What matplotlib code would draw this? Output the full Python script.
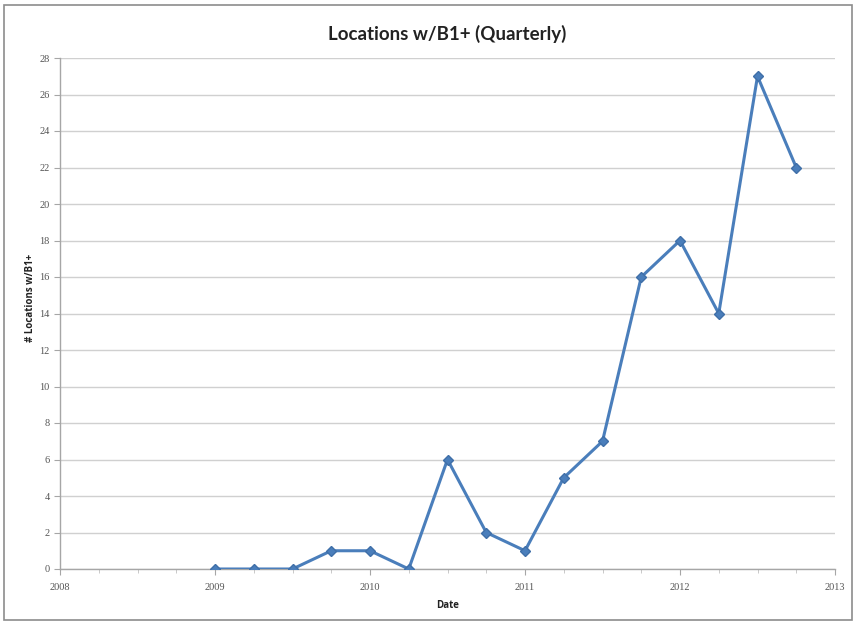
import numpy as np
import matplotlib.pyplot as plt
from matplotlib.patches import Rectangle

# quarterly counts, starting Q1 2009
quarters = [2009.0, 2009.25, 2009.5, 2009.75, 2010.0, 2010.25, 2010.5, 2010.75,
            2011.0, 2011.25, 2011.5, 2011.75, 2012.0, 2012.25, 2012.5, 2012.75]
locations = [0, 0, 0, 1, 1, 0, 6, 2, 1, 5, 7, 16, 18, 14, 27, 22]
year_ticks = [2008, 2009, 2010, 2011, 2012, 2013]
year_labels = ['2008', '2009', '2010', '2011', '2012', '2013']

fig = plt.figure(figsize=(8.57, 6.23), dpi=100)
fig.patch.set_facecolor('white')

# outer chart border
fig.patches.append(Rectangle((4 / 857, 3 / 623), 848 / 857, 615 / 623,
                             transform=fig.transFigure, fill=False,
                             edgecolor='#8c8c8c', linewidth=1.2))

ax = fig.add_axes([60 / 857, 1 - 569 / 623, 775 / 857, 511 / 623])

ax.plot(quarters, locations, color='#4a7ebb', linewidth=2.2,
        marker='D', markersize=5.5, markerfacecolor='#4a7ebb',
        markeredgecolor='#3f6fa8', zorder=3)

ax.set_xlim(2008, 2013)
ax.set_ylim(0, 28)
ax.set_yticks(np.arange(0, 29, 2))
ax.set_xticks(year_ticks)
ax.set_xticklabels(year_labels)
ax.set_xticks(np.arange(2008, 2013.01, 0.25), minor=True)

ax.grid(axis='y', color='#d0d0d0', linewidth=1.0)
ax.set_axisbelow(True)

for side in ['top', 'right']:
    ax.spines[side].set_visible(False)
for side in ['left', 'bottom']:
    ax.spines[side].set_color('#a6a6a6')
    ax.spines[side].set_linewidth(1.0)

ax.tick_params(axis='both', which='major', length=4, color='#a6a6a6',
               labelsize=7.5, labelcolor='#555555', direction='out')
ax.tick_params(axis='x', which='minor', length=3, color='#c0c0c0')
for lbl in ax.get_xticklabels() + ax.get_yticklabels():
    lbl.set_family('Liberation Serif')
ax.tick_params(axis='x', pad=6)

ax.set_title('Locations w/B1+ (Quarterly)', fontsize=13.5, fontweight='bold',
             family='Lato', color='#222222', pad=13)
ax.set_xlabel('Date', fontsize=7, fontweight='bold', family='Open Sans',
              color='#222222', labelpad=6)
ax.set_ylabel('# Locations w/B1+', fontsize=7, fontweight='bold',
              family='Open Sans', color='#222222')
ax.yaxis.set_label_coords(-24 / 775, 0.53)

fig.savefig('out.png', dpi=100)
